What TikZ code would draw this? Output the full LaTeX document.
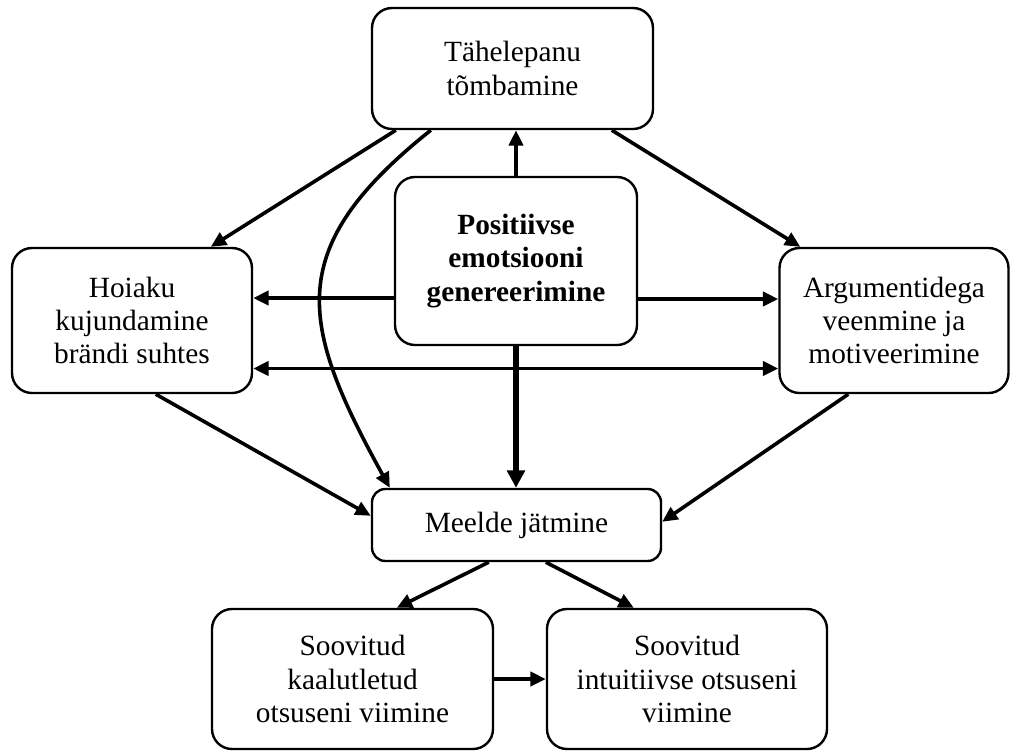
\documentclass[tikz,border=0pt]{standalone}
\usepackage{fontspec}
\setmainfont{Liberation Serif}
\usetikzlibrary{arrows.meta,calc}
\begin{document}
\begin{tikzpicture}[x=0.75pt,y=-0.75pt,
  box/.style={draw, line width=1.8pt, rounded corners=15pt, align=center, inner sep=0pt,
    font=\fontsize{22pt}{25pt}\selectfont},
  arr/.style={line width=2.7pt, -{Triangle[length=11.5pt,width=10.5pt]}},
  arrboth/.style={line width=2.7pt, {Triangle[length=11.5pt,width=10.5pt]}-{Triangle[length=11.5pt,width=10.5pt]}},
  arrthick/.style={line width=4.6pt, -{Triangle[length=13pt,width=13pt]}}]
\useasboundingbox (0,0) rectangle (1011,751);

\node[box, minimum width=210.75pt, minimum height=90.75pt] (top) at (512.5,68.5) {Tähelepanu\\tõmbamine};
\node[box, minimum width=181.5pt, minimum height=126pt, font=\fontsize{22pt}{25pt}\selectfont\bfseries] (center) at (516,261) {Positiivse\\emotsiooni\\genereerimine};
\node[box, minimum width=180pt, minimum height=108.75pt] (left) at (132,320.5) {Hoiaku\\kujundamine\\brändi suhtes};
\node[box, minimum width=171.75pt, minimum height=108.75pt] (right) at (894,320.5) {Argumentidega\\veenmine ja\\motiveerimine};
\node[box, rounded corners=10pt, minimum width=216.75pt, minimum height=54pt] (mem) at (516.5,525) {Meelde jätmine};
\node[box, minimum width=210.75pt, minimum height=105pt] (bl) at (352.5,679) {Soovitud\\kaalutletud\\otsuseni viimine};
\node[box, minimum width=210pt, minimum height=105pt] (br) at (687,679) {Soovitud\\intuitiivse otsuseni\\viimine};

\draw[arr] ($(top.south west)+(25,0)$) -- ($(left.north west)+(200,0)$);
\draw[arr] ($(top.south west)+(60,0)$) .. controls +(-148,118) and +(-91,-165) .. ($(mem.north west)+(19,0)$);
\draw[arr, line width=3pt] (center.north) -- (center.north |- top.south);
\draw[arr] ($(top.south west)+(241,0)$) -- ($(right.north west)+(22,0)$);
\draw[arr] ($(center.west)+(0,37)$) coordinate (e1) -- (e1 -| left.east);
\draw[arr] ($(center.east)+(0,38)$) coordinate (e2) -- (e2 -| right.west);
\draw[arrboth] ($(left.east)+(0,48)$) coordinate (e3) -- (e3 -| right.west);
\draw[arrthick] (center.south) -- (center.south |- mem.north);
\draw[arr] ($(left.south west)+(145,0)$) -- ($(mem.north west)+(0,28)$);
\draw[arr] ($(right.south west)+(70,0)$) -- ($(mem.north east)+(0,34)$);
\draw[arr] ($(mem.south west)+(118,0)$) -- ($(bl.north west)+(186,0)$);
\draw[arr] ($(mem.south west)+(175,0)$) -- ($(br.north west)+(88,0)$);
\draw[arr] (bl.east) -- (br.west);
\end{tikzpicture}
\end{document}
